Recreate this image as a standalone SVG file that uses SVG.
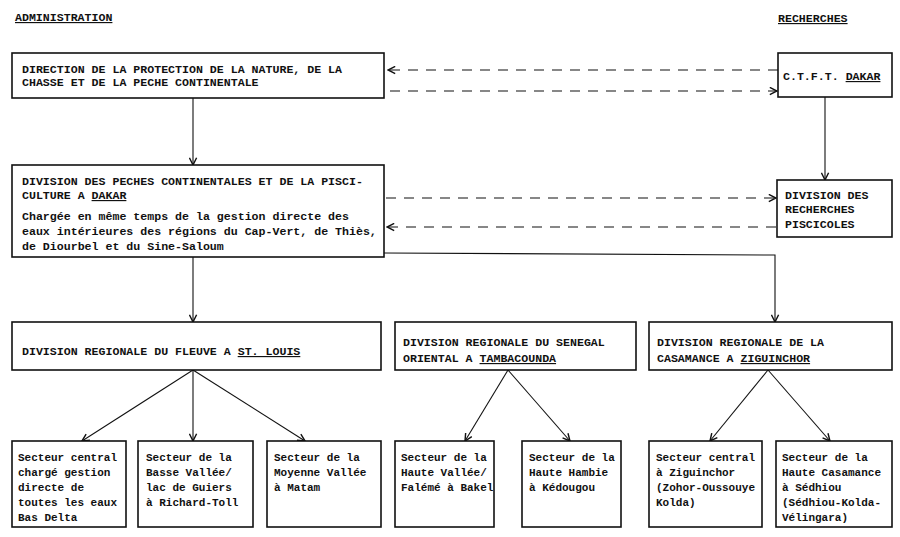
<svg xmlns="http://www.w3.org/2000/svg" width="900" height="537" viewBox="0 0 900 537">
<defs>
<style>
text{font-family:"Liberation Mono","DejaVu Sans Mono",monospace;font-weight:bold;font-size:11.6px;fill:#111}
.sm{font-size:11px}
.box{fill:#fff;stroke:#111;stroke-width:1.6}
.ln{fill:none;stroke:#111;stroke-width:1.1}
.dash{fill:none;stroke:#111;stroke-width:1.1;stroke-dasharray:10 8}
.u{text-decoration:underline}
</style>
<marker id="ah" viewBox="0 0 10 10" refX="9" refY="5" markerWidth="9" markerHeight="9" orient="auto" markerUnits="userSpaceOnUse">
<path d="M1,1 L9,5 L1,9" fill="none" stroke="#111" stroke-width="1.6"/>
</marker>
</defs>
<rect width="900" height="537" fill="#fff"/>
<g id="headers">
<text x="15" y="21" class="u">ADMINISTRATION</text>
<text x="778" y="22" class="u">RECHERCHES</text>
</g>
<g id="connectors">
<line class="dash" x1="778" y1="70" x2="388" y2="70" marker-end="url(#ah)"/>
<line class="dash" x1="390" y1="91" x2="777" y2="91" marker-end="url(#ah)"/>
<line class="ln" x1="193" y1="98" x2="193" y2="165" marker-end="url(#ah)"/>
<line class="ln" x1="825" y1="97" x2="825" y2="180" marker-end="url(#ah)"/>
<line class="dash" x1="386" y1="198" x2="776" y2="198" marker-end="url(#ah)"/>
<line class="dash" x1="776" y1="227" x2="387" y2="227" marker-end="url(#ah)"/>
<line class="ln" x1="193" y1="257" x2="193" y2="322" marker-end="url(#ah)"/>
<polyline class="ln" points="384,253 775,255 775,322" marker-end="url(#ah)"/>
<line class="ln" x1="193" y1="370" x2="82" y2="441" marker-end="url(#ah)"/>
<line class="ln" x1="193" y1="370" x2="193" y2="441" marker-end="url(#ah)"/>
<line class="ln" x1="193" y1="370" x2="305" y2="441" marker-end="url(#ah)"/>
<line class="ln" x1="508" y1="370" x2="465" y2="441" marker-end="url(#ah)"/>
<line class="ln" x1="508" y1="370" x2="570" y2="441" marker-end="url(#ah)"/>
<line class="ln" x1="768" y1="370" x2="710" y2="441" marker-end="url(#ah)"/>
<line class="ln" x1="768" y1="370" x2="830" y2="441" marker-end="url(#ah)"/>
</g>
<g id="direction">
<rect class="box" x="12" y="53" width="372" height="45"/>
<text x="22" y="72.5">DIRECTION DE LA PROTECTION DE LA NATURE, DE LA</text>
<text x="22" y="86">CHASSE ET DE LA PECHE CONTINENTALE</text>
</g>
<g id="ctft">
<rect class="box" x="778" y="53" width="114" height="44"/>
<text x="783" y="80">C.T.F.T. <tspan class="u">DAKAR</tspan></text>
</g>
<g id="division-peches">
<rect class="box" x="12" y="165" width="372" height="92"/>
<text x="22" y="185">DIVISION DES PECHES CONTINENTALES ET DE LA PISCI-</text>
<text x="22" y="199">CULTURE A <tspan class="u">DAKAR</tspan></text>
<text x="22" y="220">Chargée en même temps de la gestion directe des</text>
<text x="22" y="235">eaux intérieures des régions du Cap-Vert, de Thiès,</text>
<text x="22" y="250">de Diourbel et du Sine-Saloum</text>
</g>
<g id="division-recherches">
<rect class="box" x="777" y="180" width="115" height="57"/>
<text x="785" y="199">DIVISION DES</text>
<text x="785" y="213">RECHERCHES</text>
<text x="785" y="228">PISCICOLES</text>
</g>
<g id="fleuve">
<rect class="box" x="12" y="322" width="369" height="48"/>
<text x="22" y="355">DIVISION REGIONALE DU FLEUVE A <tspan class="u">ST. LOUIS</tspan></text>
</g>
<g id="senegal-oriental">
<rect class="box" x="395" y="322" width="241" height="48"/>
<text x="403" y="346">DIVISION REGIONALE DU SENEGAL</text>
<text x="403" y="362">ORIENTAL A <tspan class="u">TAMBACOUNDA</tspan></text>
</g>
<g id="casamance">
<rect class="box" x="649" y="322" width="243" height="48"/>
<text x="657" y="346">DIVISION REGIONALE DE LA</text>
<text x="657" y="362">CASAMANCE A <tspan class="u">ZIGUINCHOR</tspan></text>
</g>
<g id="s1" class="sm">
<rect class="box" x="12" y="441" width="114" height="86"/>
<text class="sm" x="18" y="461">Secteur central</text>
<text class="sm" x="18" y="476">chargé gestion</text>
<text class="sm" x="18" y="491">directe de</text>
<text class="sm" x="18" y="506">toutes les eaux</text>
<text class="sm" x="18" y="521">Bas Delta</text>
</g>
<g id="s2">
<rect class="box" x="138" y="441" width="115" height="86"/>
<text class="sm" x="146" y="461">Secteur de la</text>
<text class="sm" x="146" y="476">Basse Vallée/</text>
<text class="sm" x="146" y="491">lac de Guiers</text>
<text class="sm" x="146" y="506">à Richard-Toll</text>
</g>
<g id="s3">
<rect class="box" x="267" y="441" width="114" height="86"/>
<text class="sm" x="274" y="461">Secteur de la</text>
<text class="sm" x="274" y="476">Moyenne Vallée</text>
<text class="sm" x="274" y="491">à Matam</text>
</g>
<g id="s4">
<rect class="box" x="395" y="441" width="99" height="86"/>
<text class="sm" x="401" y="461">Secteur de la</text>
<text class="sm" x="401" y="476">Haute Vallée/</text>
<text class="sm" x="401" y="491">Falémé à Bakel</text>
</g>
<g id="s5">
<rect class="box" x="522" y="441" width="99" height="86"/>
<text class="sm" x="529" y="461">Secteur de la</text>
<text class="sm" x="529" y="476">Haute Hambie</text>
<text class="sm" x="529" y="491">à Kédougou</text>
</g>
<g id="s6">
<rect class="box" x="649" y="441" width="113" height="86"/>
<text class="sm" x="656" y="461">Secteur central</text>
<text class="sm" x="656" y="476">à Ziguinchor</text>
<text class="sm" x="656" y="491">(Zohor-Oussouye</text>
<text class="sm" x="656" y="506">Kolda)</text>
</g>
<g id="s7">
<rect class="box" x="776" y="441" width="116" height="86"/>
<text class="sm" x="782" y="461">Secteur de la</text>
<text class="sm" x="782" y="476">Haute Casamance</text>
<text class="sm" x="782" y="491">à Sédhiou</text>
<text class="sm" x="782" y="506">(Sédhiou-Kolda-</text>
<text class="sm" x="782" y="521">Vélingara)</text>
</g>
</svg>
